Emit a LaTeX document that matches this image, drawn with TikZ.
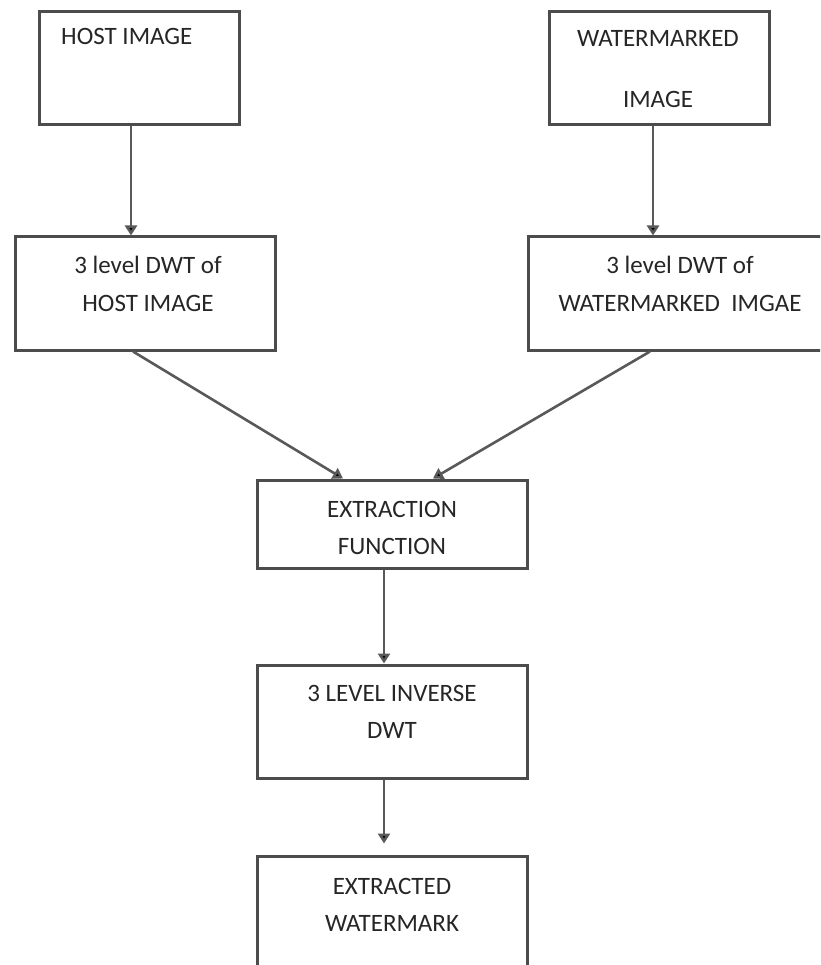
\documentclass[tikz,border=0pt]{standalone}
\usepackage{fontspec}
\setmainfont{Carlito}
\usetikzlibrary{arrows.meta,positioning}
\begin{document}
\begin{tikzpicture}[x=1pt, y=-1pt,
	box/.style={rectangle, draw=black!70, line width=3pt, fill=white, inner sep=0pt},
	txt/.style={anchor=north, inner sep=0pt, align=center, text=black!85, font=\fontsize{25}{37.5}\selectfont},
	arr/.style={->, draw=black!65, line width=2.6pt},
	>={Triangle[length=10pt, width=12pt, fill=black]}]
	\useasboundingbox (0, 0) rectangle (820, 965);
	\clip (0, 0) rectangle (820, 965);

	\node[box, minimum width=200pt, minimum height=113pt] (host-image) at (139, 68.5) {};
	\node[box, minimum width=220pt, minimum height=113pt] (wm-image) at (659, 68.5) {};
	\node[box, minimum width=260pt, minimum height=113pt] (dwt-host) at (145, 293.5) {};
	\node[box, minimum width=304pt, minimum height=113pt] (dwt-wm) at (680, 293.5) {};
	\node[box, minimum width=270pt, minimum height=88pt] (extract) at (392, 524) {};
	\node[box, minimum width=270pt, minimum height=113pt] (inverse) at (392, 721.5) {};
	\node[box, minimum width=270pt, minimum height=124pt] (result) at (392, 918) {};

	\node[txt, anchor=north west] (host-text) at (61, 28) {HOST IMAGE};
	\node[txt] (wm-text) at (658, 30) {WATERMARKED\\[24pt]IMAGE};
	\node[txt] (dwt-host-text) at (148, 256) {3 level DWT of\\HOST IMAGE};
	\node[txt] (dwt-wm-text) at (680, 256) {3 level DWT of\\WATERMARKED\ \ IMGAE};
	\node[txt] (extract-text) at (392, 501) {EXTRACTION\\FUNCTION};
	\node[txt] (inverse-text) at (392, 685) {3 LEVEL INVERSE\\DWT};
	\node[txt] (result-text) at (392, 878) {EXTRACTED\\WATERMARK};

	\draw[arr] ([xshift=-8pt]host-image.south) -- ([xshift=-8pt]host-image.south |- dwt-host.north);
	\draw[arr] ([xshift=-6pt]wm-image.south) -- ([xshift=-6pt]wm-image.south |- dwt-wm.north);
	\draw[arr] ([xshift=-12pt]dwt-host.south) -- ([xshift=-49pt]extract.north);
	\draw[arr] ([xshift=-30pt]dwt-wm.south) -- ([xshift=41pt]extract.north);
	\draw[arr] ([xshift=-8pt]extract.south) -- ([xshift=-8pt]extract.south |- inverse.north);
	\draw[arr] ([xshift=-8pt]inverse.south) -- ([xshift=-8pt, yshift=11pt]inverse.south |- result.north);
\end{tikzpicture}
\end{document}
